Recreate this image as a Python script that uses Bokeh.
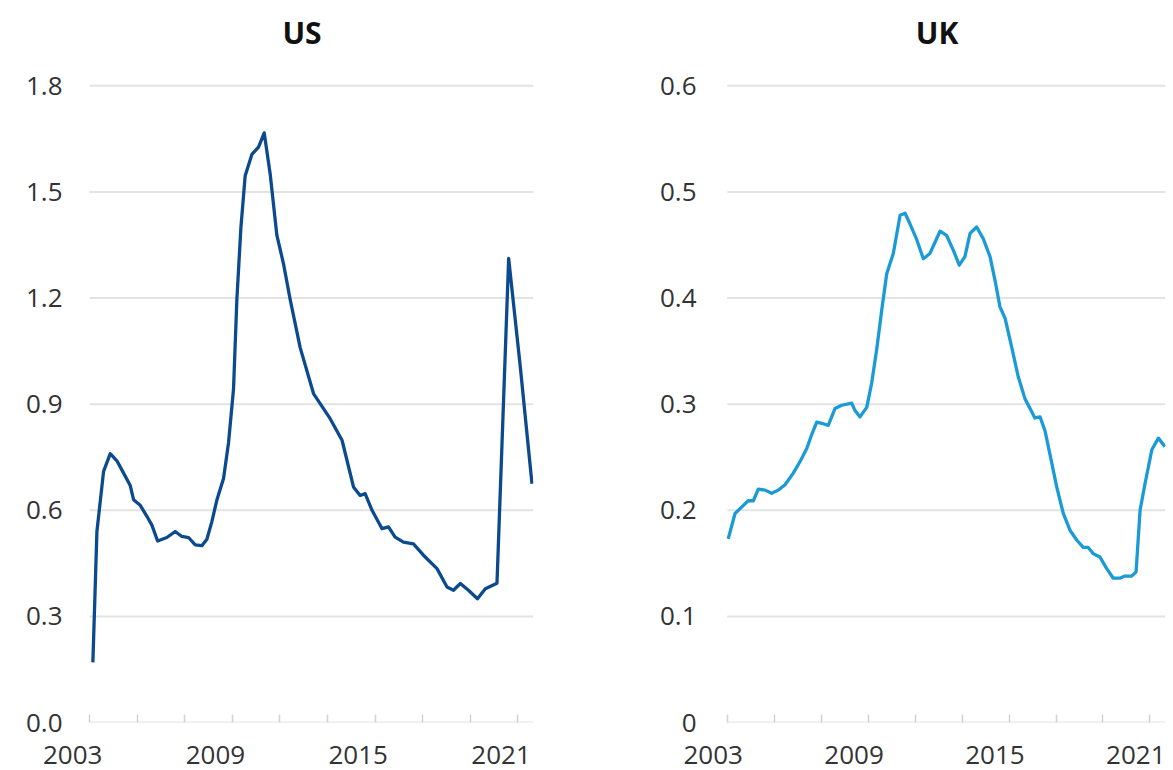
from bokeh.plotting import figure
from bokeh.layouts import row
from bokeh.models import (FixedTicker, CustomJSTickFormatter, PrintfTickFormatter,
                          Range1d, ColumnDataSource)
from bokeh.embed import file_html
from bokeh.resources import INLINE

# ---------------- data ----------------
us_year = [2003.14, 2003.31, 2003.59, 2003.87, 2004.15, 2004.43, 2004.71, 2004.85,
           2005.13, 2005.41, 2005.62, 2005.86, 2006.25, 2006.60, 2006.88, 2007.16,
           2007.44, 2007.72, 2007.93, 2008.14, 2008.35, 2008.63, 2008.84, 2009.05,
           2009.19, 2009.36, 2009.54, 2009.82, 2010.10, 2010.34, 2010.59, 2010.87,
           2011.15, 2011.43, 2011.85, 2012.41, 2013.11, 2013.61, 2014.09, 2014.37,
           2014.58, 2014.87, 2015.29, 2015.56, 2015.84, 2016.19, 2016.61, 2017.03,
           2017.60, 2018.02, 2018.29, 2018.58, 2018.92, 2019.30, 2019.63, 2020.12,
           2020.61, 2021.10, 2021.59]
us_value = [0.17, 0.54, 0.71, 0.76, 0.74, 0.705, 0.67, 0.63,
            0.614, 0.583, 0.558, 0.513, 0.523, 0.54, 0.526, 0.523,
            0.502, 0.50, 0.518, 0.568, 0.629, 0.69, 0.791, 0.943,
            1.196, 1.399, 1.546, 1.606, 1.627, 1.667, 1.551, 1.378,
            1.297, 1.196, 1.06, 0.93, 0.859, 0.798, 0.666, 0.642,
            0.647, 0.60, 0.548, 0.553, 0.524, 0.51, 0.505, 0.473,
            0.435, 0.383, 0.374, 0.393, 0.374, 0.35, 0.378, 0.394,
            1.312, 1.005, 0.675]

uk_year = [2003.04, 2003.33, 2003.61, 2003.89, 2004.11, 2004.32, 2004.61, 2004.89,
           2005.17, 2005.46, 2005.81, 2006.10, 2006.38, 2006.59, 2006.81, 2007.02,
           2007.30, 2007.59, 2007.87, 2008.30, 2008.44, 2008.65, 2008.94, 2009.15,
           2009.36, 2009.58, 2009.79, 2010.07, 2010.36, 2010.57, 2010.78, 2011.07,
           2011.35, 2011.63, 2012.06, 2012.34, 2012.63, 2012.88, 2013.12, 2013.34,
           2013.62, 2013.90, 2014.19, 2014.40, 2014.61, 2014.83, 2015.11, 2015.39,
           2015.68, 2015.96, 2016.10, 2016.32, 2016.53, 2016.74, 2017.03, 2017.31,
           2017.60, 2017.88, 2018.16, 2018.37, 2018.59, 2018.87, 2019.16, 2019.44,
           2019.72, 2019.93, 2020.22, 2020.41, 2020.58, 2020.79, 2021.08, 2021.36,
           2021.64]
uk_value = [0.173, 0.197, 0.203, 0.209, 0.209, 0.220, 0.219, 0.216,
            0.219, 0.224, 0.235, 0.246, 0.258, 0.271, 0.283, 0.282,
            0.280, 0.296, 0.299, 0.301, 0.294, 0.288, 0.297, 0.320,
            0.351, 0.389, 0.423, 0.442, 0.478, 0.480, 0.470, 0.455,
            0.437, 0.442, 0.463, 0.459, 0.445, 0.431, 0.439, 0.461,
            0.467, 0.456, 0.439, 0.417, 0.392, 0.381, 0.354, 0.326,
            0.305, 0.293, 0.287, 0.288, 0.275, 0.253, 0.222, 0.197,
            0.181, 0.172, 0.165, 0.165, 0.159, 0.156, 0.145, 0.136,
            0.136, 0.138, 0.138, 0.142, 0.200, 0.225, 0.257, 0.268,
            0.260]

x_label_years = [2003, 2009, 2015, 2021]
x_tick_years = [2003, 2005, 2007, 2009, 2011, 2013, 2015, 2017, 2019, 2021]
us_y_ticks = [0.0, 0.3, 0.6, 0.9, 1.2, 1.5, 1.8]
uk_y_ticks = [0.0, 0.1, 0.2, 0.3, 0.4, 0.5, 0.6]

FONT = "Open Sans"
GRID = "#e3e3e3"
TICK = "#d2d2d2"
TEXT = "#333333"


def make_panel(title, years, values, color, y_ticks, y_end, x_end, label_shift,
               frame_w, border_left, border_right, y_standoff, zero_label=None):
    p = figure(frame_width=frame_w, frame_height=662,
               x_range=Range1d(2002.2, x_end), y_range=Range1d(0, y_end),
               output_backend="svg", toolbar_location=None,
               min_border_left=border_left, min_border_right=border_right,
               min_border_top=60, min_border_bottom=48)
    p.outline_line_color = None
    p.background_fill_color = "white"
    p.border_fill_color = "white"
    p.xgrid.visible = False
    p.ygrid.visible = False

    # horizontal gridlines (including the baseline) from the first year tick
    gsrc = ColumnDataSource(dict(x0=[x_tick_years[0]] * len(y_ticks),
                                 x1=[x_end] * len(y_ticks),
                                 y=y_ticks))
    p.segment(x0="x0", y0="y", x1="x1", y1="y", source=gsrc,
              line_color=GRID, line_width=2)

    p.line(years, values, line_color=color, line_width=3.3, line_join="round")

    # title
    p.title.text = title
    p.title.align = "center"
    p.title.text_font = FONT
    p.title.text_font_style = "bold"
    p.title.text_font_size = "30px"
    p.title.text_color = "#111111"
    p.title.standoff = 16

    # x axis: labels slightly left of tick marks, as in the reference
    xa = p.xaxis[0]
    xa.ticker = FixedTicker(ticks=[y - label_shift for y in x_label_years],
                            minor_ticks=x_tick_years)
    xa.formatter = CustomJSTickFormatter(args=dict(shift=label_shift),
                                         code="return String(Math.round(tick + shift));")
    xa.axis_line_color = None
    xa.major_tick_line_color = None
    xa.major_tick_in = 0
    xa.major_tick_out = 0
    xa.minor_tick_line_color = TICK
    xa.minor_tick_line_width = 1.5
    xa.minor_tick_in = 8
    xa.minor_tick_out = 0
    xa.major_label_text_font = FONT
    xa.major_label_text_font_size = "26px"
    xa.major_label_text_color = TEXT
    xa.major_label_standoff = 23

    ya = p.yaxis[0]
    ya.ticker = FixedTicker(ticks=y_ticks)
    ya.formatter = PrintfTickFormatter(format="%.1f")
    if zero_label is not None:
        ya.major_label_overrides = {0: zero_label}
    ya.axis_line_color = None
    ya.major_tick_line_color = None
    ya.minor_tick_line_color = None
    ya.major_tick_in = 0
    ya.major_tick_out = 0
    ya.major_label_text_font = FONT
    ya.major_label_text_font_size = "26px"
    ya.major_label_text_color = TEXT
    ya.major_label_standoff = y_standoff
    return p


us = make_panel("US", us_year, us_value, "#0b4a8e", us_y_ticks, 1.8717, 2021.654, 0.71,
                463, 70, 75, 8)
uk = make_panel("UK", uk_year, uk_value, "#1a9ad6", uk_y_ticks, 0.6239, 2021.663, 0.6,
                457, 100, 7, 12, zero_label="0")

layout = row(us, uk)
open("out.html", "w").write(file_html(layout, INLINE))
